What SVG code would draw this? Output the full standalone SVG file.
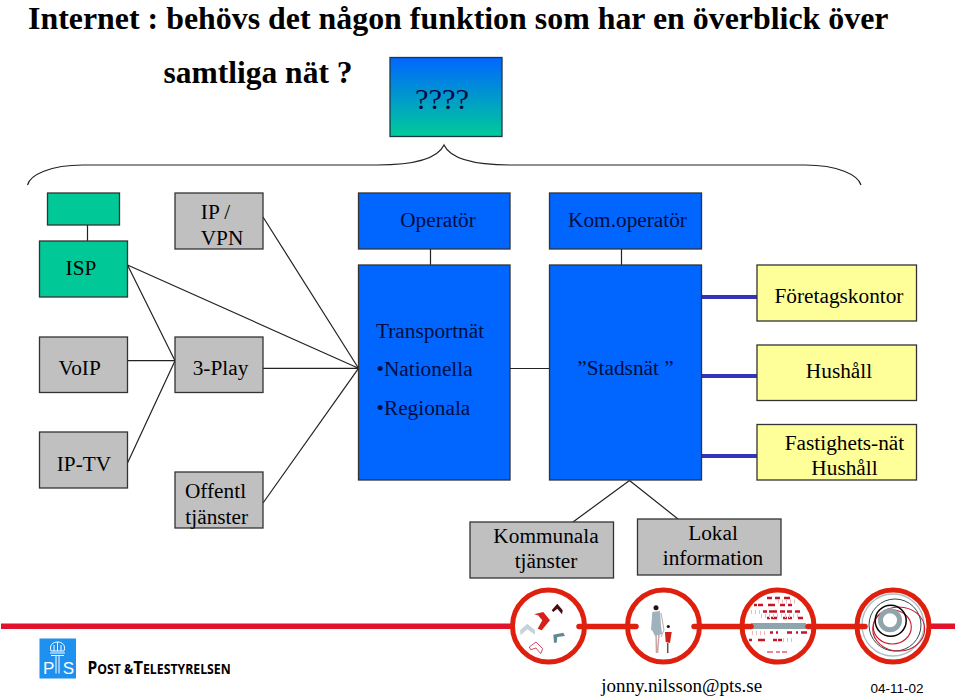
<svg xmlns="http://www.w3.org/2000/svg" width="960" height="697" viewBox="0 0 960 697">
<defs><linearGradient id="g" x1="0" y1="0" x2="0" y2="1"><stop offset="0" stop-color="#0066ff"/><stop offset="1" stop-color="#00cc99"/></linearGradient></defs>
<style>
text{font-family:"Liberation Serif","Times New Roman",serif;fill:#000;font-size:21.3px;text-anchor:middle}
text.l{text-anchor:start}
.b rect,.box{stroke:#333;stroke-width:1.3}
.gr{fill:#c0c0c0}.gn{fill:#00c896}.bl{fill:#0066ff}.ye{fill:#ffff99}
text.bt{fill:#000d40}
.c{stroke:#222;stroke-width:1.2;fill:none}
.t{stroke:#3333bb;stroke-width:4;fill:none}
.r{stroke:#e0200f;stroke-width:5;fill:#fff}
.rl{stroke:#e0200f;stroke-width:5.500;stroke-linecap:round;fill:none}
.ttl{font-size:31.900px;font-weight:bold}
.d{stroke:#c4162a;stroke-width:2.500;fill:none}
.f{stroke:#eebbbb;stroke-width:4;stroke-dasharray:1 3;fill:none}
</style>
<rect width="960" height="697" fill="#fff"/>
<text class="l ttl" x="28" y="28.500">Internet : behövs det någon funktion som har en överblick över</text>
<text class="l ttl" x="163.500" y="83" style="font-size:31.500px">samtliga nät ?</text>
<g id="q"><rect x="390" y="57.500" width="112" height="79" fill="url(#g)" stroke="#1a3a4a" stroke-width="1.300"/><text class="bt" x="442" y="109" style="font-size:30.400px">????</text></g>
<path id="brace" class="c" d="M27.500 185C30 175 50 165 83 165H377C410 165 437 160 444 145C451 160 478 165 511 165H805C838 165 858 175 861 185"/>
<g id="connectors">
<path class="c" d="M87.500 225V241M127.500 265L175 360.700M127.500 265L358.500 368.300M127.500 360.700H175M127.500 463L175 360.700M263 217L358.500 368.300M263 368.300H358.500M263 503L358.500 368.300M430.500 249V265M621.500 249V265M510 368.500H550M629.500 480.500L573 522M629.500 480.500L678 519"/>
<path class="t" d="M701.500 297H757M701.500 376H757M701.500 456H757"/>
</g>
<g id="n-top" class="b"><rect class="gn" x="47.500" y="193" width="72" height="32"/></g>
<g id="n-isp" class="b"><rect class="gn" x="39.500" y="241" width="88" height="56"/><text x="81" y="274.500">ISP</text></g>
<g id="n-ipvpn" class="b"><rect class="gr" x="175" y="193" width="88" height="56"/><text x="215.500" y="218.500">IP /</text><text x="222" y="244.500">VPN</text></g>
<g id="n-voip" class="b"><rect class="gr" x="39.500" y="337" width="88" height="55.500"/><text x="79.700" y="374.500">VoIP</text></g>
<g id="n-3play" class="b"><rect class="gr" x="175" y="337" width="88" height="55.500"/><text x="220.500" y="375">3-Play</text></g>
<g id="n-iptv" class="b"><rect class="gr" x="39.500" y="432" width="88" height="56"/><text x="84" y="471">IP-TV</text></g>
<g id="n-off" class="b"><rect class="gr" x="175" y="472" width="88" height="56"/><text x="215.500" y="497.500">Offentl</text><text x="216.700" y="523.500">tjänster</text></g>
<g id="n-op" class="b"><rect class="bl" x="358.500" y="193" width="151.500" height="56"/><text class="bt" x="438" y="226.700">Operatör</text></g>
<g id="n-trans" class="b"><rect class="bl" x="358.500" y="265" width="151.500" height="215"/>
<text class="bt l" x="376" y="337.500">Transportnät</text><text class="bt l" x="376.500" y="376">•Nationella</text><text class="bt l" x="376.500" y="415">•Regionala</text></g>
<g id="n-kom" class="b"><rect class="bl" x="549.500" y="193" width="152" height="56"/><text class="bt" x="627.500" y="226.700">Kom.operatör</text></g>
<g id="n-stad" class="b"><rect class="bl" x="549.500" y="265" width="152" height="215"/><text class="bt" x="625.500" y="375">”Stadsnät ”</text></g>
<g id="n-ftg" class="b"><rect class="ye" x="757" y="265" width="159.500" height="56"/><text x="839" y="303.300">Företagskontor</text></g>
<g id="n-hus" class="b"><rect class="ye" x="757" y="345" width="159.500" height="55.500"/><text x="839" y="378.300">Hushåll</text></g>
<g id="n-fast" class="b"><rect class="ye" x="757" y="424.500" width="159.500" height="55.500"/><text x="844.500" y="450">Fastighets-nät</text><text x="844.500" y="475">Hushåll</text></g>
<g id="n-kommunala" class="b"><rect class="gr" x="470" y="522" width="143.500" height="56"/><text x="546" y="543.300">Kommunala</text><text x="546" y="568.300">tjänster</text></g>
<g id="n-lokal" class="b"><rect class="gr" x="637.500" y="519" width="143.500" height="56"/><text x="713" y="540">Lokal</text><text x="713" y="565">information</text></g>
<rect x="1" y="623.500" width="510" height="5.500" fill="#e2142d"/>
<rect x="931" y="623.500" width="24" height="5.500" fill="#e2142d"/>
<g id="c1"><circle class="r" cx="548.500" cy="626" r="36"/>
<polygon fill="#d8201a" points="534,614.300 543.300,612 550,620.300 541.700,630.300 537.700,628.700 542.300,620.300 538,615.300"/>
<polygon fill="#4a0d14" points="551.700,610.300 557.300,603.700 562.700,610.300 562,614.300 557.300,608.700 553.300,612"/>
<polygon fill="#c5d3da" points="520,630.300 527.300,623.700 535,630.300 535,634.700 527.300,629.300 520.700,635.300"/>
<polygon fill="#5f8a92" points="553.300,634.700 563.300,632.700 565,636 557.300,637 556.700,642.700 554,642.700"/>
<polygon fill="#fff" stroke="#c8506a" stroke-width="1" points="529.300,647 536,642 542.700,648.700 540.700,653.700 536,648 530.700,649.700"/>
</g>
<g id="c2"><circle class="r" cx="663.500" cy="626" r="36"/>
<circle cx="656" cy="607.700" r="2.500" fill="#2a1010"/>
<path d="M656 633L656.500 653M659 634L657.500 653" stroke="#c9a5a8" stroke-width="1.500" fill="none"/>
<polygon fill="#9fb3bc" points="652.300,612 660,611 661,625 662,634 655,636 652,630 651,630"/>
<path d="M661 613L664 630L661 637" stroke="#c9a5a8" stroke-width="1" fill="none"/>
<circle cx="668.300" cy="626.500" r="1.600" fill="#2a1010"/>
<polygon fill="#d0201a" points="665,632 671.700,632 670,643 665.700,642"/>
<path d="M667.700 643V653" stroke="#555" stroke-width="1.500"/>
</g>
<g id="c3"><circle class="r" cx="778" cy="626" r="36"/>
<path class="d" d="M767 598H772M775 598H780M784 598H790M754 605H757M758 605H763M768 605H775M780 605H785M788 605H792M763 611.500H767M769 611.500H777M780 611.500H785M787 611.500H792M795 611.500H800M767 618H770M771 618H777M783 618H787M788 618H792M798 618H803M770 632.500H773M776 632.500H778M787 632.500H792M796 632.500H798M801 632.500H807M749 640H752M758 640H765M773 640H777M778 640H782"/>
<path class="d" style="stroke-width:1.200" d="M767 652H773M776 652H780M782 652H787"/>
<path class="f" d="M751 612H762M778 601.500H798M761 616H800M752 633H768M783 640H795"/>
<rect x="751" y="623" width="55" height="6" fill="#8fa5ac"/>
</g>
<g id="c4"><circle class="r" cx="893" cy="626" r="36"/>
<circle cx="893" cy="625" r="31" fill="none" stroke="#a9c0c6" stroke-width="1.300"/>
<circle cx="895" cy="625" r="26" fill="none" stroke="#2a4a50" stroke-width="1"/>
<ellipse cx="898.700" cy="629" rx="26" ry="22" fill="none" stroke="#c8182a" stroke-width="1.100"/>
<ellipse cx="892.300" cy="627" rx="19" ry="17" fill="none" stroke="#c8182a" stroke-width="1.100"/>
<circle cx="890.700" cy="620.700" r="15.500" fill="none" stroke="#000" stroke-width="1.500"/>
<circle cx="890" cy="620.300" r="9.500" fill="none" stroke="#8fa5ac" stroke-width="5"/>
</g>
<path class="rl" d="M579 626.500H636M694 626.500H751M808 626.500H865"/>
<g id="logo">
<rect x="39.500" y="638.500" width="36.500" height="40" fill="#1e90f0"/>
<path d="M51 651C49 645 53 642 57.500 642C62 642 66 645 64 651ZM50 653H65M54 651V645M57.500 651V642M61 651V645" fill="none" stroke="#fff" stroke-width="1"/>
<path d="M51 655.500H64M56 655.500V673.500M59 655.500V673.500" fill="none" stroke="#fff" stroke-width="1"/>
<text class="l" x="43" y="673.500" style="font-family:'Liberation Sans',Arial,sans-serif;font-size:17px;fill:#fff;letter-spacing:8.500px">PS</text>
<text class="l" transform="translate(87.500 673.500) scale(.91 1)" style="font-family:'Open Sans',sans-serif;font-weight:700;font-size:13.500px"><tspan style="font-size:17px">P</tspan>OST &amp;<tspan style="font-size:18.500px">T</tspan>ELESTYRELSEN</text>
</g>
<text x="681.700" y="691.700" style="font-size:19px">jonny.nilsson@pts.se</text>
<text x="897" y="693.300" style="font-size:13.500px;font-family:'Liberation Sans',Arial,sans-serif">04-11-02</text>
</svg>
